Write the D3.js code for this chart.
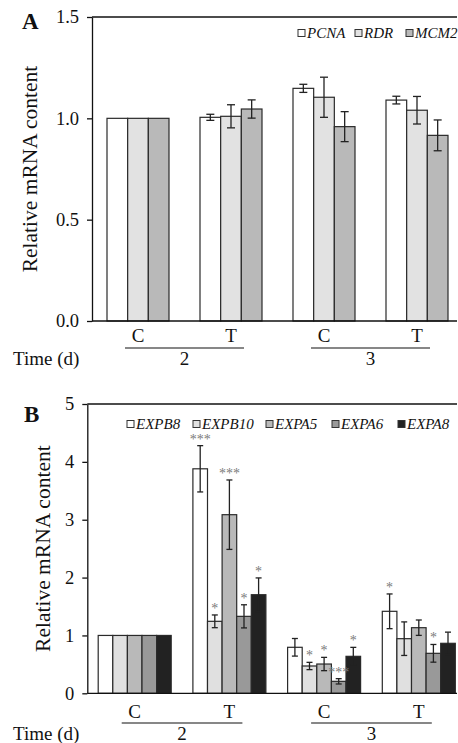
<!DOCTYPE html>
<html>
<head>
<meta charset="utf-8">
<script src="https://cdn.jsdelivr.net/npm/d3@7"></script>
<style>
  html, body { margin: 0; padding: 0; background: #fff; }
  svg { display: block; }
  text { font-family: "Liberation Serif", "Times New Roman", serif; fill: #111; }
</style>
</head>
<body>
<svg id="chart" width="458" height="743"></svg>
<script>
// ---------- data ----------
const groups = ["2C", "2T", "3C", "3T"];
const conditions = ["C", "T", "C", "T"];
const days = ["2", "3"];

// Panel A
const seriesA = ["PCNA", "RDR", "MCM2"];
const colorsA = ["#ffffff", "#e2e2e2", "#b9b9b9"];
const pcnaVals = [1.0, 1.005, 1.148, 1.09];
const pcnaErr  = [0, 0.015, 0.02, 0.019];
const rdrVals  = [1.0, 1.01, 1.104, 1.04];
const rdrErr   = [0, 0.057, 0.099, 0.068];
const mcm2Vals = [1.0, 1.046, 0.959, 0.916];
const mcm2Err  = [0, 0.045, 0.074, 0.076];
const ticksA = [0, 0.5, 1.0, 1.5];

// Panel B
const seriesB = ["EXPB8", "EXPB10", "EXPA5", "EXPA6", "EXPA8"];
const colorsB = ["#ffffff", "#e0e0e0", "#b9b9b9", "#999999", "#222222"];
const expb8Vals  = [1, 3.88, 0.795, 1.417];
const expb8Err   = [0, 0.40, 0.152, 0.30];
const expb8Sig   = ["", "***", "", "*"];
const expb10Vals = [1, 1.244, 0.472, 0.944];
const expb10Err  = [0, 0.11, 0.063, 0.29];
const expb10Sig  = ["", "*", "*", ""];
const expa5Vals  = [1, 3.087, 0.506, 1.134];
const expa5Err   = [0, 0.60, 0.115, 0.133];
const expa5Sig   = ["", "***", "*", ""];
const expa6Vals  = [1, 1.33, 0.207, 0.691];
const expa6Err   = [0, 0.20, 0.046, 0.153];
const expa6Sig   = ["", "*", "***", "*"];
const expa8Vals  = [1, 1.704, 0.639, 0.864];
const expa8Err   = [0, 0.29, 0.155, 0.193];
const expa8Sig   = ["", "*", "*", ""];
const ticksB = [0, 1, 2, 3, 4, 5];

const svg = d3.select("#chart");

function buildRows(series, vals, errs, sigs) {
  const rows = [];
  groups.forEach((g, gi) => {
    series.forEach((s, si) => {
      rows.push({ g, s, si, v: vals[si][gi], e: errs[si][gi], sig: sigs ? sigs[si][gi] : "" });
    });
  });
  return rows;
}

function drawPanel(cfg) {
  const { yDomain, yRange, xRange, xLeft, xRight, groupWidth, series, colors, rows,
          ticks, tickFmt, letter, letterPos, titleX, legendX, legendY, labelY, capW } = cfg;
  const y = d3.scaleLinear().domain(yDomain).range(yRange);
  const x = d3.scaleBand().domain(groups).range(xRange).padding(0);
  const xi = d3.scaleBand().domain(series).range([0, groupWidth]).padding(0);
  const off = (x.bandwidth() - groupWidth) / 2;
  const g = svg.append("g");

  // top frame line
  g.append("line").attr("x1", xLeft).attr("x2", xRight)
    .attr("y1", y(yDomain[1])).attr("y2", y(yDomain[1]))
    .attr("stroke", "#111").attr("stroke-width", 1.3);

  // bars
  g.selectAll("rect.bar").data(rows).enter().append("rect")
    .attr("x", d => x(d.g) + off + xi(d.s))
    .attr("y", d => y(d.v))
    .attr("width", xi.bandwidth())
    .attr("height", d => y(0) - y(d.v))
    .attr("fill", d => colors[d.si])
    .attr("stroke", "#2a2a2a").attr("stroke-width", 1.2);

  // error bars
  const eb = rows.filter(d => d.e > 0);
  const cx = d => x(d.g) + off + xi(d.s) + xi.bandwidth() / 2;
  g.selectAll("line.ev").data(eb).enter().append("line")
    .attr("x1", cx).attr("x2", cx)
    .attr("y1", d => y(d.v + d.e)).attr("y2", d => y(d.v - d.e))
    .attr("stroke", "#222").attr("stroke-width", 1.3);
  ["top", "bot"].forEach(k => {
    g.selectAll("line.cap" + k).data(eb).enter().append("line")
      .attr("x1", d => cx(d) - capW / 2).attr("x2", d => cx(d) + capW / 2)
      .attr("y1", d => y(k === "top" ? d.v + d.e : d.v - d.e))
      .attr("y2", d => y(k === "top" ? d.v + d.e : d.v - d.e))
      .attr("stroke", "#222").attr("stroke-width", 1.3);
  });

  // significance marks
  g.selectAll("text.sig").data(rows.filter(d => d.sig)).enter().append("text")
    .attr("x", cx).attr("y", d => y(d.v + d.e) - 2)
    .attr("text-anchor", "middle")
    .style("font-size", "14px").style("fill", "#7a7a7a")
    .text(d => d.sig);

  // x baseline
  g.append("line").attr("x1", xLeft).attr("x2", xRight)
    .attr("y1", y(0)).attr("y2", y(0))
    .attr("stroke", "#111").attr("stroke-width", 1.3);

  // y axis
  const ax = g.append("g").attr("transform", `translate(${xLeft},0)`)
    .call(d3.axisLeft(y).tickValues(ticks).tickFormat(tickFmt).tickSize(5).tickSizeOuter(0).tickPadding(8));
  ax.select(".domain").attr("stroke", "#111").attr("stroke-width", 1.3);
  ax.selectAll(".tick line").attr("stroke", "#111").attr("stroke-width", 1.3);
  ax.selectAll(".tick text").style("font-size", "18.5px").style("font-family", "Liberation Serif, serif").attr("fill", "#111");

  // y title
  const yc = (yRange[0] + yRange[1]) / 2;
  g.append("text").attr("transform", `translate(${titleX},${yc}) rotate(-90)`)
    .attr("text-anchor", "middle").style("font-size", "21.5px")
    .text("Relative mRNA content");

  // panel letter
  g.append("text").attr("x", letterPos[0]).attr("y", letterPos[1])
    .style("font-size", "23px").style("font-weight", "bold").text(letter);

  // condition labels
  g.selectAll("text.cond").data(groups).enter().append("text")
    .attr("x", d => x(d) + x.bandwidth() / 2).attr("y", labelY[0])
    .attr("text-anchor", "middle").style("font-size", "19px")
    .text((d, i) => conditions[i]);

  // day underline and labels
  days.forEach((dy, di) => {
    const c1 = x(groups[di * 2]) + x.bandwidth() / 2;
    const c2 = x(groups[di * 2 + 1]) + x.bandwidth() / 2;
    g.append("line").attr("x1", c1 - 13).attr("x2", c2 + 13)
      .attr("y1", labelY[1]).attr("y2", labelY[1])
      .attr("stroke", "#111").attr("stroke-width", 1.2);
    g.append("text").attr("x", (c1 + c2) / 2).attr("y", labelY[2])
      .attr("text-anchor", "middle").style("font-size", "19px").text(dy);
  });
  g.append("text").attr("x", 13).attr("y", labelY[2]).style("font-size", "19px").text("Time (d)");

  // legend
  series.forEach((s, si) => {
    g.append("rect").attr("x", legendX[si]).attr("y", legendY - 8.5)
      .attr("width", 7).attr("height", 7)
      .attr("fill", colors[si]).attr("stroke", "#333").attr("stroke-width", 1);
    g.append("text").attr("x", legendX[si] + 9).attr("y", legendY)
      .style("font-size", "15px").style("font-style", "italic").text(s);
  });
}

drawPanel({
  yDomain: [0, 1.5], yRange: [321, 17],
  xRange: [91.5, 463.5], xLeft: 92, xRight: 457, groupWidth: 62,
  series: seriesA, colors: colorsA,
  rows: buildRows(seriesA, [pcnaVals, rdrVals, mcm2Vals], [pcnaErr, rdrErr, mcm2Err], null),
  ticks: ticksA, tickFmt: d3.format(".1f"),
  letter: "A", letterPos: [22, 29], titleX: 37,
  legendX: [298, 355, 406], legendY: 38,
  labelY: [342, 348, 365], capW: 8
});

drawPanel({
  yDomain: [0, 5], yRange: [693.3, 404],
  xRange: [87.35, 466.15], xLeft: 87.3, xRight: 457, groupWidth: 73,
  series: seriesB, colors: colorsB,
  rows: buildRows(seriesB,
    [expb8Vals, expb10Vals, expa5Vals, expa6Vals, expa8Vals],
    [expb8Err, expb10Err, expa5Err, expa6Err, expa8Err],
    [expb8Sig, expb10Sig, expa5Sig, expa6Sig, expa8Sig]),
  ticks: ticksB, tickFmt: d3.format("d"),
  letter: "B", letterPos: [24, 422], titleX: 50,
  legendX: [127, 193, 266, 332, 398], legendY: 429,
  labelY: [718, 723, 740], capW: 6
});
</script>
</body>
</html>
